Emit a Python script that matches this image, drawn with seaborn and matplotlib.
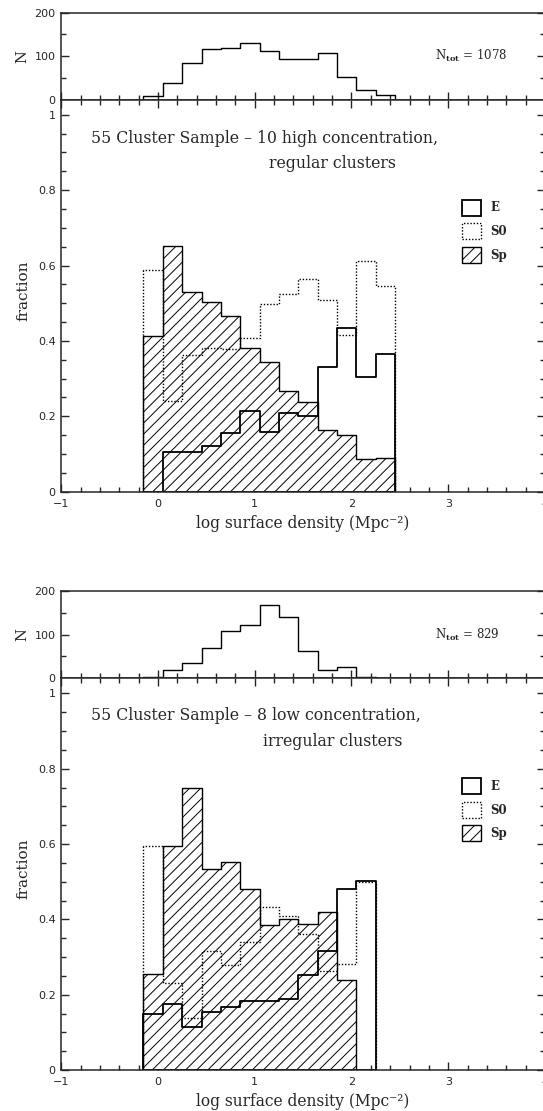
import numpy as np
import matplotlib
matplotlib.use("Agg")
import matplotlib.pyplot as plt
from matplotlib.patches import Patch
from matplotlib.ticker import MultipleLocator, FuncFormatter
import seaborn as sns

# ---------------- data ----------------
# log surface density bins (Mpc^-2)
edges_high = [-0.15, 0.05, 0.25, 0.45, 0.65, 0.85, 1.05, 1.25, 1.45, 1.65, 1.85, 2.05, 2.25, 2.45]
edges_low = [-0.15, 0.05, 0.25, 0.45, 0.65, 0.85, 1.05, 1.25, 1.45, 1.65, 1.85, 2.05, 2.25]

# 10 high concentration, regular clusters
n_high = [8, 39, 84, 116, 119, 130, 113, 94, 93, 108, 53, 22, 11]
e_high = [0.000, 0.106, 0.106, 0.122, 0.156, 0.215, 0.158, 0.208, 0.202, 0.332, 0.435, 0.305, 0.365]
s0_high = [0.587, 0.241, 0.363, 0.380, 0.379, 0.407, 0.498, 0.524, 0.563, 0.508, 0.416, 0.611, 0.547]
sp_high = [0.414, 0.653, 0.531, 0.503, 0.467, 0.381, 0.345, 0.268, 0.237, 0.164, 0.150, 0.087, 0.090]
ntot_high = 1078
title_high = ["55 Cluster Sample \u2013 10 high concentration,", "regular clusters"]

# 8 low concentration, irregular clusters
n_low = [4, 18, 35, 69, 109, 122, 167, 141, 63, 19, 25, 4]
e_low = [0.150, 0.175, 0.113, 0.153, 0.168, 0.182, 0.182, 0.188, 0.252, 0.317, 0.481, 0.502]
s0_low = [0.596, 0.232, 0.137, 0.315, 0.279, 0.339, 0.434, 0.409, 0.361, 0.264, 0.281, 0.498]
sp_low = [0.256, 0.596, 0.748, 0.533, 0.553, 0.480, 0.386, 0.400, 0.387, 0.419, 0.238, 0.000]
ntot_low = 829
title_low = ["55 Cluster Sample \u2013 8 low concentration,", "irregular clusters"]

type_labels = ["E", "S0", "Sp"]
xlabel = "log surface density (Mpc\u207b\u00b2)"

# ---------------- style ----------------
sns.set_style("ticks")
plt.rcParams["font.family"] = ["DejaVu Sans"]
plt.rcParams["mathtext.fontset"] = "dejavuserif"
plt.rcParams["hatch.linewidth"] = 0.7
plt.rcParams["hatch.color"] = "black"
plt.rcParams["axes.linewidth"] = 1.1

SERIF = ["DejaVu Serif"]
HATCH = "///"
E_LW, SP_LW, S0_LW, N_LW = 1.3, 1.0, 1.0, 1.0
S0_LS = (0, (1.0, 1.3))
TITLE_FS = 11.3

fig = plt.figure(figsize=(5.43, 11.11), dpi=100)

L, W = 0.1127, 0.891
pos = {
    "n1": [L, 0.9103, W, 0.0782],
    "m1": [L, 0.5574, W, 0.3529],
    "n2": [L, 0.3895, W, 0.0785],
    "m2": [L, 0.0369, W, 0.3526],
}


def centers_of(edges):
    e = np.asarray(edges, dtype=float)
    return list((e[:-1] + e[1:]) / 2)


def step_hist(ax, edges, values, **kw):
    sns.histplot(x=centers_of(edges), weights=list(values), bins=list(edges),
                 element="step", fill=True, color="black", ax=ax, **kw)


minus_fmt = FuncFormatter(lambda v, _: f"{v:g}".replace("-", "\u2212"))


def style_common(ax):
    ax.set_xlim(-1, 4)
    ax.xaxis.set_major_locator(MultipleLocator(1))
    ax.xaxis.set_minor_locator(MultipleLocator(0.2))
    ax.tick_params(which="both", direction="in", right=True, labelsize=8, width=1.0)
    ax.tick_params(axis="x", pad=5)
    ax.tick_params(axis="y", pad=4)
    ax.tick_params(which="major", length=6)
    ax.tick_params(which="minor", length=3.5)
    for s in ax.spines.values():
        s.set_visible(True)
        s.set_linewidth(1.1)


def draw_panel(ax_n, ax_m, edges, n, e, s0, sp, ntot, title, title_y, title2_x):
    # ---- N panel ----
    step_hist(ax_n, edges, n, facecolor="none", edgecolor="black", linewidth=N_LW)
    style_common(ax_n)
    ax_n.set_ylim(0, 200)
    ax_n.yaxis.set_major_locator(MultipleLocator(100))
    ax_n.yaxis.set_minor_locator(MultipleLocator(50))
    ax_n.tick_params(which="both", top=False, bottom=True, labelbottom=False)
    ax_n.set_xlabel("")
    ax_n.set_ylabel("N", family=SERIF, fontsize=10.5)
    ax_n.yaxis.set_label_coords(-0.080, 0.5)
    ax_n.yaxis.label.set_va("center")
    ax_n.text(0.772, 0.5, r"N$_{\mathbf{tot}}$ = " + f"{ntot}", transform=ax_n.transAxes,
              family=SERIF, fontsize=8.5, va="center", ha="left")

    # ---- fraction panel ----
    step_hist(ax_m, edges, sp, facecolor="white", edgecolor="black", linewidth=SP_LW, hatch=HATCH)
    step_hist(ax_m, edges, e, facecolor="none", edgecolor="black", linewidth=E_LW)
    step_hist(ax_m, edges, s0, facecolor="none", edgecolor="black", linewidth=S0_LW, linestyle=S0_LS)
    style_common(ax_m)
    ax_m.set_ylim(0, 1.04)
    ax_m.yaxis.set_major_locator(MultipleLocator(0.2))
    ax_m.yaxis.set_minor_locator(MultipleLocator(0.05))
    ax_m.yaxis.set_major_formatter(FuncFormatter(lambda v, _: f"{v:g}"))
    ax_m.xaxis.set_major_formatter(minus_fmt)
    ax_m.tick_params(which="both", top=True)
    ax_m.set_ylabel("fraction", family=SERIF, fontsize=11)
    ax_m.yaxis.set_label_coords(-0.078, 0.513)
    ax_m.yaxis.label.set_va("center")
    ax_m.set_xlabel(xlabel, family=SERIF, fontsize=11.2)
    ax_m.xaxis.set_label_coords(0.5, -0.081)
    ax_m.xaxis.label.set_va("center")

    ax_m.text(0.061, title_y[0], title[0], transform=ax_m.transAxes, family=SERIF,
              fontsize=TITLE_FS, va="center", ha="left")
    ax_m.text(title2_x, title_y[1], title[1], transform=ax_m.transAxes, family=SERIF,
              fontsize=TITLE_FS, va="center", ha="left")

    handles = [
        Patch(facecolor="white", edgecolor="black", linewidth=E_LW),
        Patch(facecolor="white", edgecolor="black", linewidth=S0_LW, linestyle=S0_LS),
        Patch(facecolor="white", edgecolor="black", linewidth=SP_LW, hatch=HATCH),
    ]
    ax_m.legend(handles, type_labels, loc="upper left", bbox_to_anchor=(0.829, 0.745),
                frameon=False, borderpad=0, borderaxespad=0, handlelength=1.6, handleheight=1.71,
                labelspacing=0.64, handletextpad=0.8,
                prop={"family": SERIF, "size": 8.5, "weight": "bold"})


ax_n1 = fig.add_axes(pos["n1"])
ax_m1 = fig.add_axes(pos["m1"])
ax_n2 = fig.add_axes(pos["n2"])
ax_m2 = fig.add_axes(pos["m2"])

draw_panel(ax_n1, ax_m1, edges_high, n_high, e_high, s0_high, sp_high, ntot_high, title_high,
           (0.902, 0.837), 0.430)
draw_panel(ax_n2, ax_m2, edges_low, n_low, e_low, s0_low, sp_low, ntot_low, title_low,
           (0.906, 0.838), 0.418)

fig.savefig("out.png", dpi=100)
